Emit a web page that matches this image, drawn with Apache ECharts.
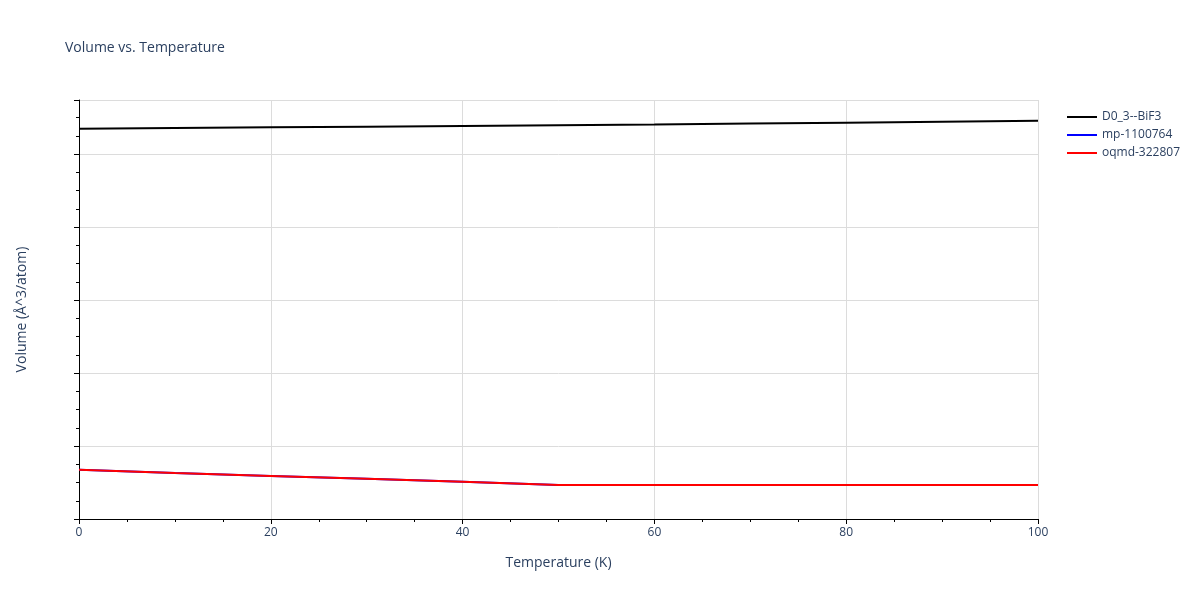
<!DOCTYPE html>
<html>
<head>
<meta charset="utf-8">
<script src="https://cdn.jsdelivr.net/npm/echarts@6/dist/echarts.min.js"></script>
<style>html,body{margin:0;padding:0;background:#fff}#main{width:1200px;height:600px}</style>
</head>
<body>
<div id="main"></div>
<script>
var temps = [0, 10, 20, 30, 40, 50, 60, 70, 80, 90, 100];
var d03 = [212.9, 213.1, 213.3, 213.5, 213.7, 213.9, 214.1, 214.35, 214.6, 214.85, 215.1];
var mp = [119.5, 118.6, 117.8, 117.0, 116.2, 115.3, 115.3, 115.3, 115.3, 115.3, 115.3];
var oqmd = [119.5, 118.6, 117.8, 117.0, 116.2, 115.3, 115.3, 115.3, 115.3, 115.3, 115.3];

function pairs(ys) { return temps.map(function (t, i) { return [t, ys[i]]; }); }

var myChart = echarts.init(document.getElementById('main'));
var font = 'Open Sans, Verdana, sans-serif';
var axisCommon = {
  axisLine: { show: true, lineStyle: { color: '#000' } },
  axisTick: { show: true, length: 5, lineStyle: { color: '#000' } },
  minorTick: { show: true, splitNumber: 4, length: 3, lineStyle: { color: '#000' } },
  axisLabel: { color: '#2a3f5f', fontSize: 12, fontFamily: font },
  splitLine: { show: true, lineStyle: { color: '#dcdcdc' } },
  nameTextStyle: { color: '#2a3f5f', fontSize: 14, fontFamily: font }
};
var option = {
  title: { text: 'Volume vs. Temperature', left: 60, top: 36, textStyle: { color: '#2a3f5f', fontSize: 14, fontWeight: 'normal', fontFamily: font } },
  legend: {
    orient: 'vertical', left: 1062, top: 106, itemGap: 6, itemWidth: 30,
    icon: 'path://M0,0H30V2H0Z',
    textStyle: { color: '#2a3f5f', fontSize: 12, fontFamily: font },
    data: ['D0_3--BiF3', 'mp-1100764', 'oqmd-322807']
  },
  grid: { left: 79, right: 162, top: 100, bottom: 81 },
  xAxis: Object.assign({}, axisCommon, {
    type: 'value', min: 0, max: 100, interval: 20,
    name: 'Temperature (K)', nameLocation: 'middle', nameGap: 37
  }),
  yAxis: Object.assign({}, axisCommon, {
    type: 'value', min: 106, max: 220.8, interval: 20,
    axisLabel: Object.assign({}, axisCommon.axisLabel, { showMinLabel: false, showMaxLabel: true, formatter: function (v) { return v % 20 === 0 ? v : ''; } }),
    name: 'Volume (Å^3/atom)', nameLocation: 'middle', nameGap: 50
  }),
  series: [
    { name: 'D0_3--BiF3', type: 'line', data: pairs(d03), showSymbol: false, lineStyle: { color: '#000', width: 2 }, itemStyle: { color: '#000' } },
    { name: 'mp-1100764', type: 'line', data: pairs(mp), showSymbol: false, lineStyle: { color: '#0000ff', width: 2 }, itemStyle: { color: '#0000ff' } },
    { name: 'oqmd-322807', type: 'line', data: pairs(oqmd), showSymbol: false, lineStyle: { color: '#ff0000', width: 2 }, itemStyle: { color: '#ff0000' } }
  ]
};
myChart.setOption(option);
</script>
</body>
</html>
